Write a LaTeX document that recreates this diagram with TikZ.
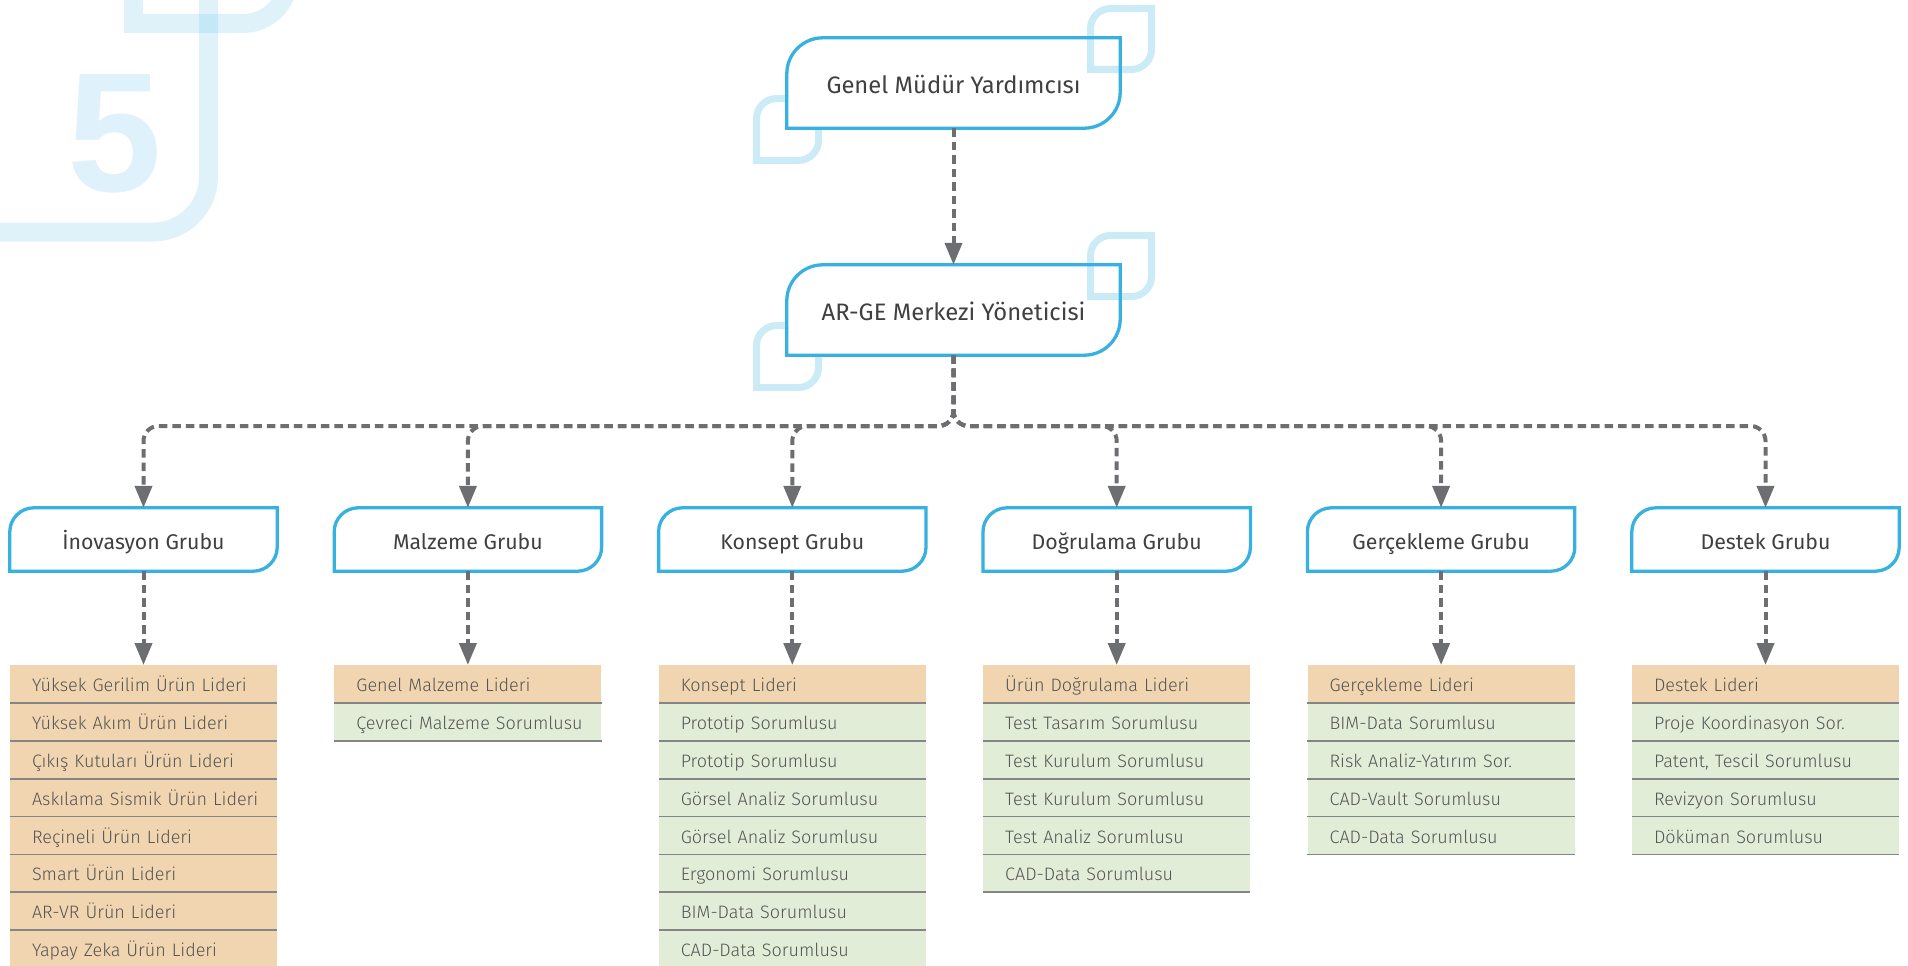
\documentclass[tikz,border=0pt]{standalone}
\usepackage{fontspec}
\setmainfont{Fira Sans}
\newfontfamily\lightfont{Fira Sans Light}
\newfontfamily\digitfont{Liberation Sans}
\usetikzlibrary{arrows.meta}
\definecolor{nodeblue}{HTML}{36B1E0}
\definecolor{linegray}{HTML}{6D6E71}
\definecolor{textdark}{HTML}{404040}
\definecolor{textgray}{HTML}{555555}
\definecolor{leadfill}{HTML}{F0D5B0}
\definecolor{memberfill}{HTML}{E2EDD8}
\definecolor{sepgray}{HTML}{858585}
\definecolor{fivefill}{HTML}{DFF1FA}
\pgfdeclarelayer{back}
\pgfdeclarelayer{mid}
\pgfsetlayers{back,mid,main}

% leaf-shaped decoration: top-left corner x,y of centre line, size
\newcommand\leafdeco[3]{%
  \draw[deco] (#1,#2+#3) -- (#1,#2+20) .. controls (#1,#2+9) and (#1+9,#2) .. (#1+20,#2)
    -- (#1+#3,#2) -- (#1+#3,#2+#3-20) .. controls (#1+#3,#2+#3-9) and (#1+#3-9,#2+#3) .. (#1+#3-20,#2+#3) -- cycle;}
% border of a box node: rounded top-left and bottom-right corners
\newcommand\leafbox[2]{%
  \draw[boxline] (#1.south west) -- ([yshift=-#2pt]#1.north west)
    .. controls ([yshift=-0.4477*#2pt]#1.north west) and ([xshift=0.4477*#2pt]#1.north west) .. ([xshift=#2pt]#1.north west)
    -- (#1.north east) -- ([yshift=#2pt]#1.south east)
    .. controls ([yshift=0.4477*#2pt]#1.south east) and ([xshift=-0.4477*#2pt]#1.south east) .. ([xshift=-#2pt]#1.south east)
    -- cycle;}
% list under a group: id, x centre, number of lead rows, items
\newcommand\grouplist[4]{%
  \foreach \t [count=\i] in {#4} {%
    \ifnum\i>#3 \def\fc{memberfill}\else\def\fc{leadfill}\fi
    \node[rowbox, fill=\fc] (#1r\i) at (#2,{665+37.8*(\i-1)}) {\mbox{\t}};
  }
  \foreach \t [count=\i] in {#4} {%
    \draw[sep] (#1r\i.south west) -- (#1r\i.south east);
  }
}

\begin{document}
\begin{tikzpicture}[x=1pt,y=-1pt,
  deco/.style={draw=nodeblue, draw opacity=0.26, line width=7pt},
  bigdeco/.style={draw=nodeblue, draw opacity=0.16, line width=19pt},
  boxline/.style={draw=nodeblue, line width=3.3pt, fill=white},
  topbox/.style={minimum width=333pt, minimum height=90pt, inner sep=0pt,
    text height=22pt, text depth=1.4pt,
    font=\fontsize{23.8}{28}\selectfont, text=textdark},
  groupbox/.style={minimum width=267pt, minimum height=63pt, inner sep=0pt,
    text height=20pt, text depth=1pt,
    font=\fontsize{21.3}{25}\selectfont, text=textdark},
  rowbox/.style={anchor=north, minimum width=267pt, minimum height=37.8pt,
    inner xsep=22pt, inner ysep=0pt, text width=223pt, align=left,
    text height=16pt, text depth=0.6pt,
    font=\lightfont\fontsize{18}{21}\selectfont, text=textgray},
  sep/.style={draw=sepgray, line width=1.6pt},
  conn/.style={draw=linegray, line width=4pt, dash pattern=on 8.5pt off 5pt,
    rounded corners=15pt, -{Triangle[length=22pt,width=17pt]}}
]
\path[use as bounding box] (0,0) rectangle (1908,966);

% background "5" decoration
\begin{pgfonlayer}{back}
  \draw[bigdeco] (133.5,-20) -- (133.5,23.5) -- (243,23.5)
    .. controls (268.1,23.5) and (288.5,3.1) .. (288.5,-22) -- (288.5,-60);
  \draw[bigdeco] (208.5,-20) -- (208.5,176.5)
    .. controls (208.5,207.2) and (183.7,232) .. (153,232) -- (-20,232);
  \node[font=\digitfont\bfseries\fontsize{170}{170}\selectfont, text=fivefill,
    anchor=base, inner sep=0pt] (five) at (115,191) {5};
  \leafdeco{756.5}{98.5}{62}
  \leafdeco{756.5}{325.5}{62}
\end{pgfonlayer}

% nodes
\node[topbox] (gmy) at (953.5,83) {Genel Müdür Yardımcısı};
\node[topbox] (arge) at (953.5,310) {AR-GE Merkezi Yöneticisi};
\node[groupbox] (g1) at (143.5,539.5) {İnovasyon Grubu};
\node[groupbox] (g2) at (467.9,539.5) {Malzeme Grubu};
\node[groupbox] (g3) at (792.3,539.5) {Konsept Grubu};
\node[groupbox] (g4) at (1116.7,539.5) {Doğrulama Grubu};
\node[groupbox] (g5) at (1441.1,539.5) {Gerçekleme Grubu};
\node[groupbox] (g6) at (1765.5,539.5) {Destek Grubu};

\begin{pgfonlayer}{mid}
  \leafbox{gmy}{36}
  \leafbox{arge}{36}
  \leafdeco{1090.5}{8.5}{61}
  \leafdeco{1090.5}{235.5}{61}
  \foreach \g in {g1,g2,g3,g4,g5,g6} {\leafbox{\g}{24}}
\end{pgfonlayer}

% lists
\grouplist{g1}{143.5}{8}{Yüksek Gerilim Ürün Lideri, Yüksek Akım Ürün Lideri, Çıkış Kutuları Ürün Lideri, Askılama Sismik Ürün Lideri, Reçineli Ürün Lideri, Smart Ürün Lideri, AR-VR Ürün Lideri, Yapay Zeka Ürün Lideri}
\grouplist{g2}{467.9}{1}{Genel Malzeme Lideri, Çevreci Malzeme Sorumlusu}
\grouplist{g3}{792.3}{1}{Konsept Lideri, Prototip Sorumlusu, Prototip Sorumlusu, Görsel Analiz Sorumlusu, Görsel Analiz Sorumlusu, Ergonomi Sorumlusu, BIM-Data Sorumlusu, CAD-Data Sorumlusu}
\grouplist{g4}{1116.7}{1}{Ürün Doğrulama Lideri, Test Tasarım Sorumlusu, Test Kurulum Sorumlusu, Test Kurulum Sorumlusu, Test Analiz Sorumlusu, CAD-Data Sorumlusu}
\grouplist{g5}{1441.1}{1}{Gerçekleme Lideri, BIM-Data Sorumlusu, Risk Analiz-Yatırım Sor., CAD-Vault Sorumlusu, CAD-Data Sorumlusu}
\grouplist{g6}{1765.5}{1}{Destek Lideri, Proje Koordinasyon Sor., {Patent, Tescil Sorumlusu}, Revizyon Sorumlusu, Döküman Sorumlusu}

% connectors
\coordinate (bus) at (953.5,426);
\draw[conn] (gmy.south) -- (arge.north);
\foreach \g in {g1,g2,g3,g4,g5,g6} {
  \draw[conn] (arge.south) -- (bus) -| (\g.north);
  \draw[conn] (\g.south) -- (\g r1.north);
}
\end{tikzpicture}
\end{document}
